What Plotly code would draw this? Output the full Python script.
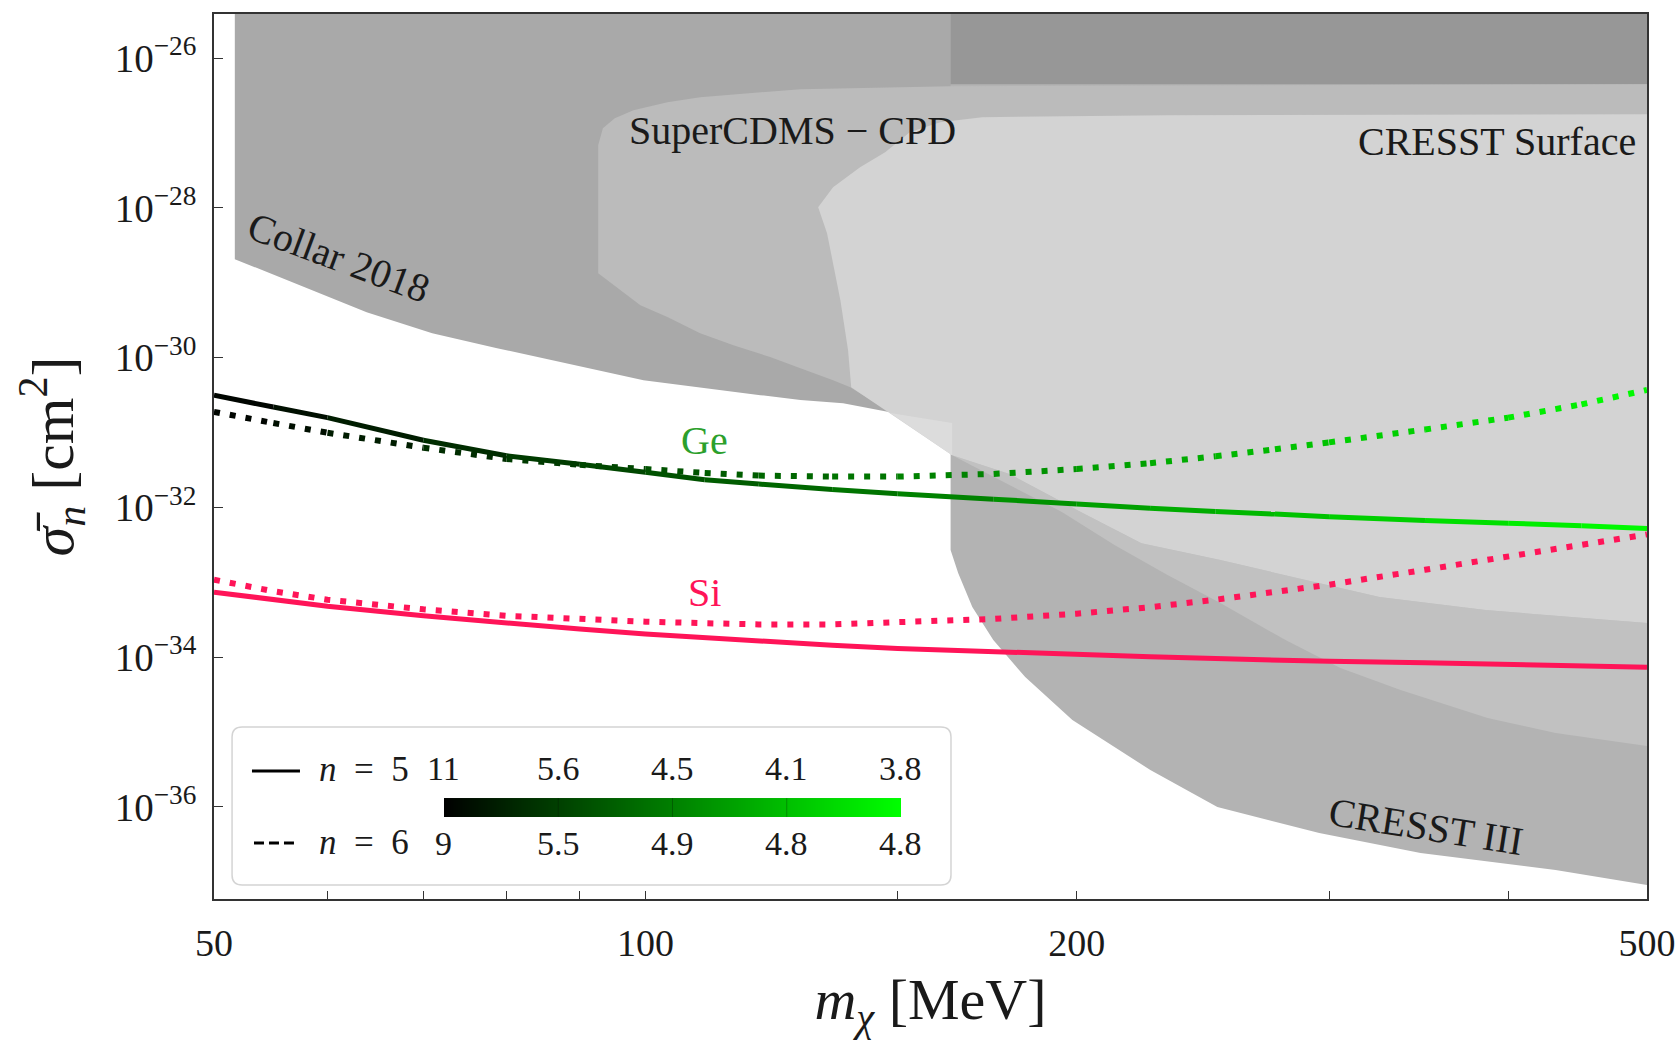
import numpy as np
import plotly.graph_objects as go

# ---------------------------------------------------------------------------
# Dark-matter mass grid [MeV] and projected reach on sigma_n [cm^2]
# ---------------------------------------------------------------------------
mass = [50, 55, 60, 70, 80, 90, 100, 110, 120, 135, 150, 175, 200,
        225, 250, 275, 300, 350, 400, 450, 500]

ge_n5 = [3.15e-31, 2.19e-31, 1.58e-31, 7.90e-32, 4.90e-32, 3.76e-32, 2.94e-32,
         2.34e-32, 2.05e-32, 1.74e-32, 1.52e-32, 1.29e-32, 1.11e-32, 9.76e-33,
         8.84e-33, 8.14e-33, 7.50e-33, 6.69e-33, 6.16e-33, 5.67e-33, 5.22e-33]
ge_n6 = [1.89e-31, 1.34e-31, 9.94e-32, 6.27e-32, 4.44e-32, 3.70e-32, 3.25e-32,
         2.89e-32, 2.66e-32, 2.58e-32, 2.58e-32, 2.80e-32, 3.25e-32, 3.89e-32,
         4.82e-32, 5.97e-32, 7.39e-32, 1.10e-31, 1.58e-31, 2.38e-31, 3.71e-31]
si_n5 = [7.37e-34, 5.85e-34, 4.80e-34, 3.57e-34, 2.84e-34, 2.37e-34, 2.04e-34,
         1.82e-34, 1.65e-34, 1.44e-34, 1.31e-34, 1.17e-34, 1.07e-34, 1.01e-34,
         9.57e-35, 9.11e-35, 8.81e-35, 8.39e-35, 7.99e-35, 7.60e-35, 7.36e-35]
si_n6 = [1.08e-33, 7.61e-34, 5.85e-34, 4.35e-34, 3.57e-34, 3.18e-34, 2.98e-34,
         2.84e-34, 2.74e-34, 2.74e-34, 2.88e-34, 3.24e-34, 3.81e-34, 4.65e-34,
         5.85e-34, 7.37e-34, 9.28e-34, 1.47e-33, 2.18e-33, 3.14e-33, 4.36e-33]

# colour-bar labels (value of the parameter along the Ge curves)
cb_labels_n5 = ["11", "5.6", "4.5", "4.1", "3.8"]
cb_labels_n6 = ["9", "5.5", "4.9", "4.8", "4.8"]

# ---------------------------------------------------------------------------
# Excluded regions (vertices in mass [MeV], sigma [cm^2]); SIG_TOP closes
# the polygons above the frame.
# ---------------------------------------------------------------------------
SIG_TOP = 1e-25

collar_m = [51.7, 51.7, 63.9, 71.0, 78.8, 93.0, 99.7, 120.3, 128.3, 137.4,
            148.2, 163.7, 500, 500]
collar_s = [SIG_TOP, 2.07e-29, 4.05e-30, 2.12e-30, 1.34e-30, 6.81e-31, 5.01e-31,
            3.16e-31, 2.71e-31, 2.47e-31, 1.87e-31, 1.34e-31, 7.92e-32, SIG_TOP]

cresst3_m = [163.3, 163.3, 165.3, 169.1, 174.9, 184.1, 198.6, 212.5, 225.1,
             250.7, 295.3, 347.5, 431.7, 500, 500]
cresst3_s = [SIG_TOP, 2.69e-33, 1.33e-33, 4.67e-34, 1.69e-34, 5.42e-35, 1.45e-35,
             6.31e-36, 3.11e-36, 9.98e-37, 4.49e-37, 2.43e-37, 1.44e-37, 9.06e-38,
             SIG_TOP]

overlap_m = [163.3, 500, 500, 163.3]
overlap_s = [SIG_TOP, SIG_TOP, 4.49e-27, 4.49e-27]

cdms_m = [92.7, 93.4, 95.2, 98.1, 103.6, 109.2, 128.3, 163.2, 500, 500,
          163.7, 148.2, 139.0, 135.2, 128.3, 122.2, 115.2, 109.2, 103.6, 99.2, 92.7]
cdms_s = [6.87e-28, 1.16e-27, 1.58e-27, 2.01e-27, 2.58e-27, 3.01e-27, 3.85e-27,
          4.22e-27, 4.49e-27, 1.27e-28, 1.34e-31, 1.87e-31, 4.04e-31, 5.01e-31,
          7.24e-31, 1.02e-30, 1.47e-30, 2.12e-30, 3.48e-30, 5.02e-30, 1.34e-29]

surf_m = [132.0, 135.2, 141.2, 147.0, 153.0, 160.6, 171.8, 231.4, 500, 500,
          385.7, 325.3, 251.9, 221.9, 200.2, 179.5, 163.7, 148.2, 139.2, 138.5,
          136.8, 133.9]
surf_s = [1.02e-28, 1.89e-28, 3.49e-28, 5.55e-28, 1.03e-27, 1.39e-27, 1.63e-27,
          1.73e-27, 1.78e-27, 2.85e-34, 4.26e-34, 6.34e-34, 1.98e-33, 3.33e-33,
          9.20e-33, 2.79e-32, 4.99e-32, 1.82e-31, 4.04e-31, 1.26e-30, 5.86e-30,
          4.59e-29]

# band between the surface run boundary and the CRESST III inner contour
band_m = [163.7, 179.5, 200.2, 221.9, 251.9, 325.3, 385.7, 500,
          500, 431.7, 387.0, 336.5, 305.5, 279.7, 251.9, 231.4, 212.5, 195.4, 179.5]
band_s = [4.99e-32, 2.79e-32, 9.20e-33, 3.33e-33, 1.98e-33, 6.34e-34, 4.26e-34, 2.85e-34,
          6.50e-36, 9.70e-36, 1.54e-35, 3.64e-35, 7.16e-35, 1.69e-34, 5.27e-34,
          1.25e-33, 3.14e-33, 8.65e-33, 1.99e-32]

wedge_m = [148.2, 163.7, 163.7]
wedge_s = [1.82e-31, 1.34e-31, 4.99e-32]

fig = go.Figure()


def region(xs, ys, color):
    fig.add_trace(go.Scatter(x=xs, y=ys, mode="lines", fill="toself",
                             fillcolor=color, line=dict(width=0),
                             hoverinfo="skip", showlegend=False))


region(collar_m, collar_s, "#a9a9a9")
region(cresst3_m, cresst3_s, "#b3b3b3")
region(overlap_m, overlap_s, "#979797")
region(cdms_m, cdms_s, "#bbbbbb")
region(band_m, band_s, "#c1c1c1")
region(surf_m, surf_s, "#d3d3d3")
region(wedge_m, wedge_s, "#dcdcdc")

# ---------------------------------------------------------------------------
# Projection curves; Ge curves shaded black -> green along the mass axis
# ---------------------------------------------------------------------------
LOG_SPAN = np.log10(mass[-1] / mass[0])


def green(m):
    t = np.log10(m / mass[0]) / LOG_SPAN
    return f"rgb(0,{int(round(255 * t))},0)"


def gradient_curve(ys, dash, width):
    for i in range(len(mass) - 1):
        mid = np.sqrt(mass[i] * mass[i + 1])
        fig.add_trace(go.Scatter(x=mass[i:i + 2], y=ys[i:i + 2], mode="lines",
                                 line=dict(color=green(mid), width=width, dash=dash),
                                 hoverinfo="skip", showlegend=False))


SI_COLOR = "#ff1458"
DOT = "6px,10px"

gradient_curve(ge_n6, DOT, 6)
gradient_curve(ge_n5, "solid", 5)
fig.add_trace(go.Scatter(x=mass, y=si_n6, mode="lines",
                         line=dict(color=SI_COLOR, width=6, dash=DOT),
                         hoverinfo="skip", showlegend=False))
fig.add_trace(go.Scatter(x=mass, y=si_n5, mode="lines",
                         line=dict(color=SI_COLOR, width=5),
                         hoverinfo="skip", showlegend=False))

# colour bar inside the legend box (mass 50 -> 500 mapped to black -> green)
fig.add_trace(go.Heatmap(z=[[0, 1], [0, 1]], x=[0, 1], y=[0, 1], zsmooth="best",
                         colorscale=[[0, "#000000"], [1, "#00ff00"]],
                         showscale=False, hoverinfo="skip",
                         xaxis="x2", yaxis="y2"))
for xt in [0.25, 0.5, 0.75]:
    fig.add_trace(go.Scatter(x=[xt, xt], y=[0, 1], mode="lines",
                             line=dict(color="rgba(0,0,0,0.25)", width=1),
                             hoverinfo="skip", showlegend=False,
                             xaxis="x2", yaxis="y2"))

# ---------------------------------------------------------------------------
# Text labels
# ---------------------------------------------------------------------------
region_labels = [
    ("Collar 2018", 61.1, 2.20e-29, 20.4, "center"),
    ("SuperCDMS − CPD", 126.6, 1.09e-27, 0, "center"),
    ("CRESST Surface", 493.0, 7.78e-28, 0, "right"),
    ("CRESST III", 350.3, 5.40e-37, 9, "center"),
]
annotations = []
for text, m, s, ang, xa in region_labels:
    annotations.append(dict(text=text, x=np.log10(m), y=np.log10(s), xref="x", yref="y",
                            showarrow=False, textangle=ang, xanchor=xa, yanchor="middle",
                            font=dict(size=40, color="#1a1a1a")))

target_labels = [("Ge", 110.0, 7.92e-32, "#2ca02c"), ("Si", 110.0, 7.40e-34, SI_COLOR)]
for text, m, s, col in target_labels:
    annotations.append(dict(text=text, x=np.log10(m), y=np.log10(s), xref="x", yref="y",
                            showarrow=False, xanchor="center", yanchor="middle",
                            font=dict(size=40, color=col)))

# legend entries and colour-bar labels (paper coordinates)
CB_X0, CB_X1 = 0.1605, 0.4794
cb_x = [CB_X0 + k * (CB_X1 - CB_X0) / 4 for k in range(5)]
for lbl, xx in zip(cb_labels_n5, cb_x):
    annotations.append(dict(text=lbl, x=xx, y=0.1469, xref="paper", yref="paper",
                            showarrow=False, xanchor="center", yanchor="middle",
                            font=dict(size=34, color="#1a1a1a")))
for lbl, xx in zip(cb_labels_n6, cb_x):
    annotations.append(dict(text=lbl, x=xx, y=0.0622, xref="paper", yref="paper",
                            showarrow=False, xanchor="center", yanchor="middle",
                            font=dict(size=34, color="#1a1a1a")))
annotations.append(dict(text="<i>n</i>\u2002=\u20025", x=0.0719, y=0.1458,
                        xref="paper", yref="paper", showarrow=False,
                        xanchor="left", yanchor="middle",
                        font=dict(size=35, color="#1a1a1a")))
annotations.append(dict(text="<i>n</i>\u2002=\u20026", x=0.0719, y=0.0633,
                        xref="paper", yref="paper", showarrow=False,
                        xanchor="left", yanchor="middle",
                        font=dict(size=35, color="#1a1a1a")))

# rounded legend frame
x0, x1, y0, y1 = 0.0126, 0.5143, 0.0158, 0.1944
rx, ry = 0.0070, 0.0113
frame_path = (f"M {x0 + rx},{y0} L {x1 - rx},{y0} Q {x1},{y0} {x1},{y0 + ry} "
              f"L {x1},{y1 - ry} Q {x1},{y1} {x1 - rx},{y1} L {x0 + rx},{y1} "
              f"Q {x0},{y1} {x0},{y1 - ry} L {x0},{y0 + ry} Q {x0},{y0} {x0 + rx},{y0} Z")
shapes = [
    dict(type="path", path=frame_path, xref="paper", yref="paper",
         fillcolor="rgba(255,255,255,0.8)", line=dict(color="#d4d4d4", width=1.5),
         layer="below"),
    dict(type="line", xref="paper", yref="paper", x0=0.0265, x1=0.0600,
         y0=0.1446, y1=0.1446, line=dict(color="black", width=3), layer="above"),
    dict(type="line", xref="paper", yref="paper", x0=0.0279, x1=0.0558,
         y0=0.0633, y1=0.0633, line=dict(color="black", width=3, dash="10px,5px"),
         layer="above"),
]

AX = "#333333"
y_ticks = [1e-26, 1e-28, 1e-30, 1e-32, 1e-34, 1e-36]
y_text = [f"10<sup>−{int(round(-np.log10(v)))}</sup>" for v in y_ticks]
x_ticks = [50, 100, 200, 500]
x_minor = [60, 70, 80, 90, 150, 300, 400]

fig.update_layout(
    width=1679, height=1040,
    autosize=False,
    margin=dict(l=214, r=32, t=14, b=141, autoexpand=False),
    paper_bgcolor="white", plot_bgcolor="rgba(0,0,0,0)",
    font=dict(family="Liberation Serif", size=37, color="#1a1a1a"),
    showlegend=False,
    annotations=annotations,
    shapes=shapes,
    xaxis=dict(type="log", range=[np.log10(50), np.log10(500)],
               tickmode="array", tickvals=x_ticks, ticktext=[str(v) for v in x_ticks],
               ticks="inside", ticklen=8, tickwidth=1, tickcolor=AX,
               minor=dict(tickmode="array", tickvals=x_minor, ticks="inside",
                          ticklen=8, tickwidth=1, tickcolor=AX, showgrid=False),
               showline=True, linecolor=AX, linewidth=1.6, mirror=True,
               showgrid=False, zeroline=False, ticklabelstandoff=10,
               ticklabeloverflow="allow", automargin=False,
               tickfont=dict(size=38),
               title=dict(text="<i>m</i><sub><i>χ</i></sub> [MeV]",
                          font=dict(size=58), standoff=30)),
    yaxis=dict(type="log", range=[-37.23, -25.41],
               tickmode="array", tickvals=y_ticks, ticktext=y_text,
               ticks="inside", ticklen=9, tickwidth=1, tickcolor=AX,
               showline=True, linecolor=AX, linewidth=1.6, mirror=True,
               showgrid=False, zeroline=False, ticklabelstandoff=8,
               ticklabeloverflow="allow", automargin=False,
               tickfont=dict(size=39),
               title=dict(text="<i>σ\u0304</i><sub><i>n</i></sub> [cm<sup>2</sup>]",
                          font=dict(size=60), standoff=22)),
    xaxis2=dict(domain=[CB_X0, CB_X1], range=[0, 1], visible=False, anchor="y2",
                fixedrange=True, automargin=False),
    yaxis2=dict(domain=[0.0927, 0.1141], range=[0, 1], visible=False, anchor="x2",
                fixedrange=True, automargin=False),
)

fig.write_html("out.html")
